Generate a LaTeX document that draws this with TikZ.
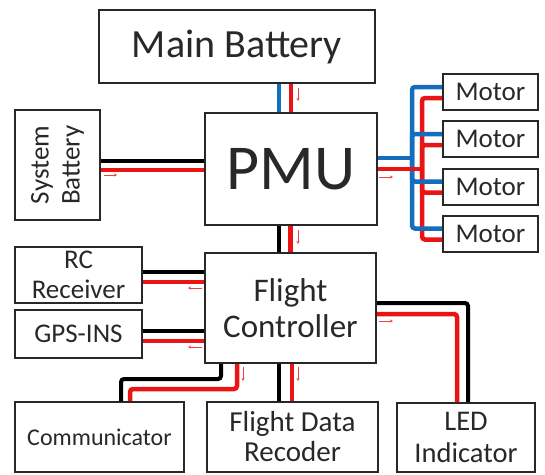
\documentclass[tikz,border=0pt]{standalone}
\usepackage{fontspec}
\setmainfont{Carlito}
\usepackage{tikz}
\usetikzlibrary{arrows.meta, positioning, calc}
\definecolor{wireblue}{RGB}{20, 110, 190}
\definecolor{wirered}{RGB}{235, 20, 20}
\definecolor{boxgray}{RGB}{40, 40, 40}

\begin{document}
\begin{tikzpicture}[x=1pt, y=-1pt,
        box/.style={draw=boxgray, line width=2pt, inner sep=0pt,
                    align=center, text=boxgray},
        bwire/.style={wireblue, line width=4.5pt, rounded corners=3pt},
        rwire/.style={wirered, line width=4.5pt, rounded corners=3pt},
        kwire/.style={black, line width=4pt, rounded corners=3pt},
        flow/.style={wirered!80, line width=0.6pt,
                     -{Stealth[length=3pt, width=3pt]}}
      ]
        \useasboundingbox (0,0) rectangle (545,474);

        % power side
        \node[box, minimum width=276, minimum height=73,
              font=\fontsize{40}{44}\selectfont] (mbat) at (237, 46.5)
              {Main Battery};
        \node[box, minimum width=172, minimum height=112,
              font=\fontsize{64}{70}\selectfont] (pmu) at (291, 169)
              {PMU};
        \node[box, rotate=90, minimum width=110, minimum height=85,
              font=\fontsize{27}{31}\selectfont] (sysbat) at (57.5, 165)
              {System\\Battery};
        \foreach \i/\y in {1/92, 2/139, 3/186.5, 4/233.5}
          \node[box, minimum width=95, minimum height=36,
                font=\fontsize{27}{30}\selectfont] (m\i) at (490.5, \y)
                {Motor};

        % control side
        \node[box, minimum width=171, minimum height=110,
              font=\fontsize{33}{36}\selectfont] (fc) at (290.5, 308)
              {Flight\\Controller};
        \node[box, minimum width=127, minimum height=56,
              font=\fontsize{27}{30}\selectfont] (rc) at (78.5, 275)
              {RC\\Receiver};
        \node[box, minimum width=127, minimum height=48,
              font=\fontsize{27}{30}\selectfont] (gps) at (78.5, 334)
              {GPS-INS};
        \node[box, minimum width=169, minimum height=70,
              font=\fontsize{24}{28}\selectfont] (comm) at (99.5, 437)
              {Communicator};
        \node[box, minimum width=171, minimum height=70,
              font=\fontsize{29}{30}\selectfont] (fdr) at (292.5, 437)
              {Flight Data\\Recoder};
        \node[box, minimum width=138, minimum height=69,
              font=\fontsize{28.5}{32}\selectfont] (led) at (466, 437.5)
              {LED\\Indicator};

        % power wires
        \draw[bwire] ([xshift=-12pt]pmu.north) -- ([xshift=-12pt]pmu.north |- mbat.south);
        \draw[rwire] (pmu.north) -- (pmu.north |- mbat.south);
        \draw[kwire] ([yshift=4pt]sysbat.south) -- ([yshift=4pt]sysbat.south -| pmu.west);
        \draw[rwire] ([yshift=-5pt]sysbat.south) -- ([yshift=-5pt]sysbat.south -| pmu.west);

        \coordinate (bjoin) at (412, 158);
        \coordinate (rjoin) at (422, 169);
        \foreach \i in {1,...,4}
          \draw[rwire] ([yshift=-6pt]m\i.west) -| (rjoin);
        \foreach \i in {1,...,4}
          \draw[bwire] ([yshift=5pt]m\i.west) -| (bjoin);
        \draw[bwire] ([yshift=11pt]pmu.east) -- (bjoin);
        \draw[rwire] (pmu.east) -- (rjoin);

        % control wires
        \draw[kwire] ([xshift=-12pt]fc.north) -- ([xshift=-12pt]fc.north |- pmu.south);
        \draw[rwire] (fc.north) -- (fc.north |- pmu.south);
        \draw[kwire] ([yshift=3pt]rc.east) -- ([yshift=3pt]rc.east -| fc.west);
        \draw[rwire] ([yshift=-7pt]rc.east) -- ([yshift=-7pt]rc.east -| fc.west);
        \draw[kwire] ([yshift=3pt]gps.east) -- ([yshift=3pt]gps.east -| fc.west);
        \draw[rwire] ([yshift=-7pt]gps.east) -- ([yshift=-7pt]gps.east -| fc.west);
        \draw[kwire] ([xshift=-69.5pt]fc.south) -- ++(0,15) -| ([xshift=21.5pt]comm.north);
        \draw[rwire] ([xshift=-53.5pt]fc.south) -- ++(0,25) -| ([xshift=30.5pt]comm.north);
        \draw[kwire] ([xshift=-11.5pt]fc.south) -- ([xshift=-11.5pt]fc.south |- fdr.north);
        \draw[rwire] ([xshift=1.5pt]fc.south) -- ([xshift=1.5pt]fc.south |- fdr.north);
        \draw[kwire] ([yshift=5pt]fc.east) -| ([xshift=2pt]led.north);
        \draw[rwire] ([yshift=-6pt]fc.east) -| ([xshift=-9pt]led.north);

        % current direction marks
        \draw[flow] (298, 88) -- (298, 101);
        \draw[flow] (104, 175) -- (117, 175);
        \draw[flow] (379, 177) -- (393, 177);
        \draw[flow] (298, 230) -- (298, 244);
        \draw[flow] (202, 288) -- (188, 288);
        \draw[flow] (202, 347) -- (188, 347);
        \draw[flow] (243, 367) -- (243, 381);
        \draw[flow] (298, 367) -- (298, 381);
        \draw[flow] (379, 321) -- (393, 321);
      \end{tikzpicture}
\end{document}
